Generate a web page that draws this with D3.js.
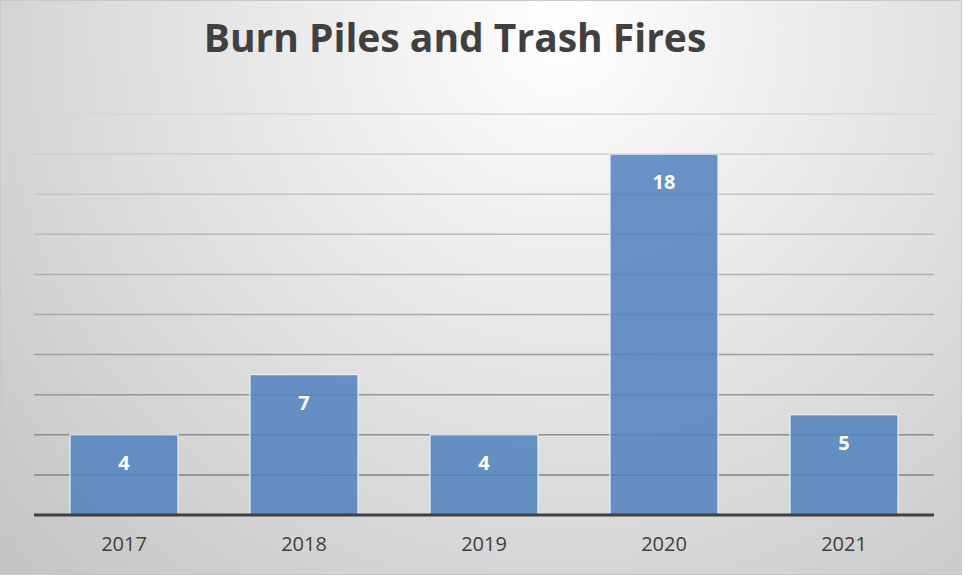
<!DOCTYPE html>
<html>
<head>
<meta charset='utf-8'>
<style>
body { margin:0; background:#fff; }
svg { display:block; }
.title { font-family: "Open Sans", sans-serif; font-weight:bold; fill:#404040; }
.xlab { font-family: "Open Sans", sans-serif; font-size:20px; fill:#404040; }
.vlab { font-family: "Open Sans", sans-serif; font-weight:bold; font-size:20px; fill:#fff; }
</style>
</head>
<body>
<svg width="964" height="577"></svg>
<script src="https://d3js.org/d3.v7.min.js"></script>
<script>
var years = ["2017", "2018", "2019", "2020", "2021"];
var fires = [4, 7, 4, 18, 5];
var gridTicks = [2, 4, 6, 8, 10, 12, 14, 16, 18, 20];

var svg = d3.select('svg'),
    W = 964, H = 577,
    plotL = 34, plotR = 934, plotT = 114, plotB = 515;

var defs = svg.append('defs');
var bg = defs.append('radialGradient').attr('id', 'bg')
  .attr('gradientUnits', 'userSpaceOnUse')
  .attr('cx', 560).attr('cy', 30).attr('r', 800);
bg.append('stop').attr('offset', '0%').attr('stop-color', '#ffffff');
bg.append('stop').attr('offset', '100%').attr('stop-color', '#c2c2c2');

var gg = defs.append('linearGradient').attr('id', 'grid')
  .attr('gradientUnits', 'userSpaceOnUse')
  .attr('x1', 0).attr('y1', plotT).attr('x2', 0).attr('y2', plotB);
gg.append('stop').attr('offset', '0%').attr('stop-color', '#d6d6d6');
gg.append('stop').attr('offset', '100%').attr('stop-color', '#7a7a7a');

svg.append('rect').attr('x', 0.5).attr('y', 0.5).attr('width', W - 3).attr('height', H - 3)
  .attr('fill', 'url(#bg)').attr('stroke', '#c8c8c8');

var x = d3.scaleBand().domain(years).range([plotL, plotR]).paddingInner(0.4).paddingOuter(0.2);
var y = d3.scaleLinear().domain([0, 20]).range([plotB, plotT]);

// gridlines
svg.append('g').selectAll('line').data(gridTicks).enter().append('line')
  .attr('x1', plotL).attr('x2', plotR)
  .attr('y1', d => y(d)).attr('y2', d => y(d))
  .attr('stroke', 'url(#grid)').attr('stroke-width', 1.5);

// bars
svg.append('g').selectAll('rect').data(fires).enter().append('rect')
  .attr('x', (d, i) => x(years[i]))
  .attr('y', d => y(d))
  .attr('width', x.bandwidth())
  .attr('height', d => y(0) - y(d))
  .attr('fill', '#4f81bd').attr('fill-opacity', 0.85)
  .attr('stroke', '#e8eef6').attr('stroke-width', 1.2);

// value labels
svg.append('g').selectAll('text').data(fires).enter().append('text')
  .attr('class', 'vlab')
  .attr('x', (d, i) => x(years[i]) + x.bandwidth() / 2)
  .attr('y', d => y(d) + 35)
  .attr('text-anchor', 'middle')
  .text(d => d);

// baseline axis
var xAxis = svg.append('g').attr('transform', `translate(0,${plotB})`)
  .call(d3.axisBottom(x).tickSize(0).tickPadding(22));
xAxis.select('.domain').attr('stroke', '#404040').attr('stroke-width', 3)
  .attr('d', `M${plotL},0H${plotR}`);
xAxis.selectAll('text').attr('class', 'xlab').attr('fill', null);

svg.append('text').attr('class', 'title')
  .attr('x', 455).attr('y', 52)
  .attr('text-anchor', 'middle')
  .attr('font-size', 39)
  .text('Burn Piles and Trash Fires');
</script>
</body>
</html>
